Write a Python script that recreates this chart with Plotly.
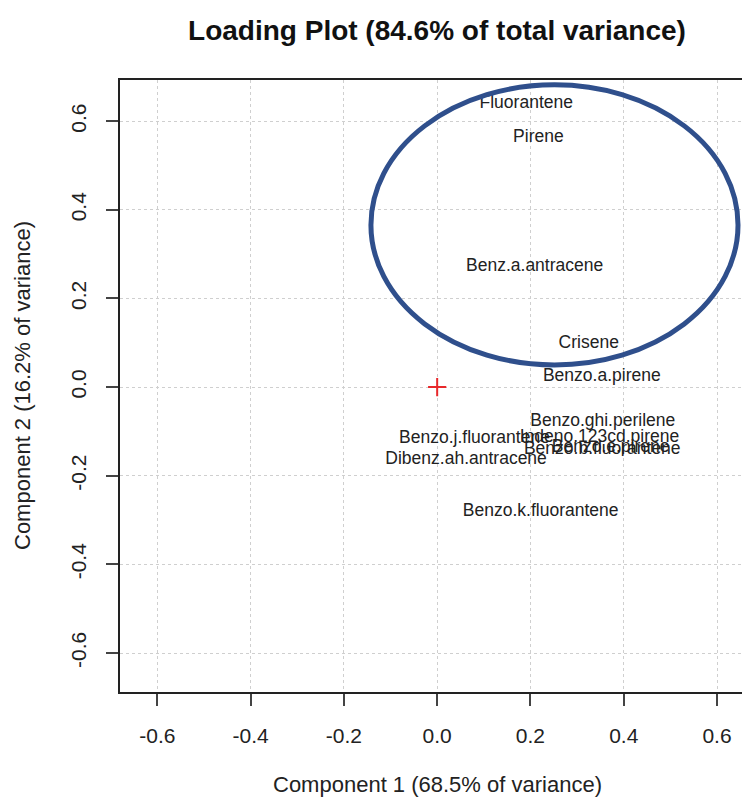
import plotly.graph_objects as go

# PCA loadings (component 1, component 2)
compounds = [
    "Fluorantene", "Pirene", "Benz.a.antracene", "Crisene", "Benzo.a.pirene",
    "Benzo.ghi.perilene", "Indeno.123cd.pirene", "Benzo.b.fluorantene",
    "Benzo.e.pirene", "Benzo.j.fluorantene", "Dibenz.ah.antracene",
    "Benzo.k.fluorantene",
]
comp1 = [0.191, 0.217, 0.209, 0.325, 0.353, 0.355, 0.348, 0.354, 0.372, 0.080, 0.062, 0.222]
comp2 = [0.639, 0.562, 0.271, 0.099, 0.023, -0.077, -0.113, -0.140, -0.136, -0.117, -0.163, -0.280]

tick_vals = [-0.6, -0.4, -0.2, 0.0, 0.2, 0.4, 0.6]
tick_text = ["-0.6", "-0.4", "-0.2", "0.0", "0.2", "0.4", "0.6"]

FONT = "Liberation Sans, Arial, sans-serif"

# the page adds an 8px body margin, so the figure is laid out 8px up/left
L, R, T, B = 112, 6, 72, 114
PW, PH = 750 - L - R, 798 - T - B

fig = go.Figure()

# compound labels
fig.add_trace(go.Scatter(
    x=comp1, y=comp2, mode="text", text=compounds,
    textposition="middle center",
    textfont=dict(family=FONT, size=17.5, color="#222222"),
    hoverinfo="text", showlegend=False,
))

# origin marker
fig.add_trace(go.Scatter(
    x=[0], y=[0], mode="markers",
    marker=dict(symbol="cross-thin", size=13, color="#e8282b",
                line=dict(color="#e8282b", width=2)),
    showlegend=False,
))

# highlight ellipse
fig.add_shape(
    type="circle", xref="x", yref="y",
    x0=-0.142, x1=0.645, y0=0.050, y1=0.682,
    line=dict(color="#2f4f8c", width=5),
)

axis_common = dict(
    tickvals=tick_vals, ticktext=tick_text,
    showgrid=True, gridcolor="#cfcfcf", griddash="dot", gridwidth=1,
    zeroline=False,
    showline=True, linecolor="#222222", linewidth=1.5, mirror=True,
    ticks="outside", ticklen=12, tickcolor="#444444", tickwidth=1.5,
    tickfont=dict(family=FONT, size=21, color="#222222"),
)

fig.update_layout(
    width=750, height=798,
    margin=dict(l=L, r=R, t=T, b=B, autoexpand=False),
    paper_bgcolor="white", plot_bgcolor="white",
    title=dict(
        text="<b>Loading Plot (84.6% of total variance)</b>",
        x=429 / 750, xanchor="center", y=1 - 22 / 798, yanchor="middle",
        font=dict(family=FONT, size=28, color="#111111"),
    ),
    xaxis=dict(range=[-0.68, 0.675], ticklabelstandoff=12, **axis_common),
    yaxis=dict(range=[-0.688, 0.693], tickangle=-90, ticklabelstandoff=12, **axis_common),
    annotations=[
        dict(text="Component 1 (68.5% of variance)", xref="paper", yref="paper",
             x=(429 - L) / PW, y=-93 / PH, xanchor="center", yanchor="middle",
             showarrow=False, font=dict(family=FONT, size=22, color="#222222")),
        dict(text="Component 2 (16.2% of variance)", xref="paper", yref="paper",
             x=-(L - 14) / PW, y=0.5, xanchor="center", yanchor="middle", textangle=-90,
             showarrow=False, font=dict(family=FONT, size=22, color="#222222")),
    ],
)

fig.write_html("out.html")
